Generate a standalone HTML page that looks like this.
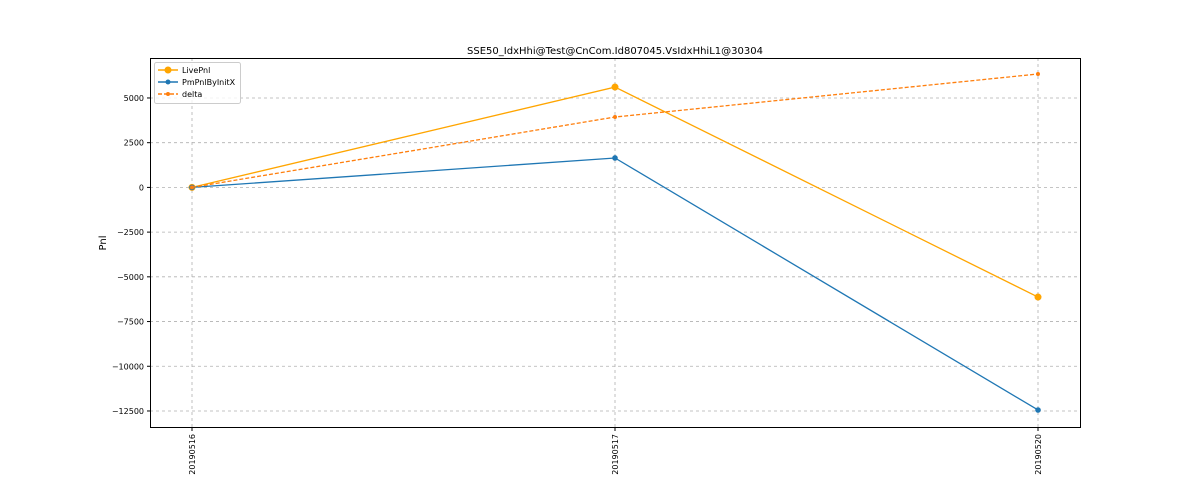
<!DOCTYPE html>
<html><head><meta charset="utf-8"><style>
body{margin:0;background:#fff;font-family:"DejaVu Sans","Liberation Sans",sans-serif;}
svg text{font-family:"DejaVu Sans","Liberation Sans",sans-serif;}
</style></head><body>
<svg id="chart" width="1200" height="480" xmlns="http://www.w3.org/2000/svg">
<rect width="1200" height="480" fill="#fff"/>
<g id="grid"></g>
<g id="series"></g>
<rect x="150.5" y="58.5" width="930" height="369" fill="none" stroke="#000" stroke-width="1"/>
<g id="yticks"></g>
<g id="xticks"></g>
<text x="615" y="54" font-size="10" text-anchor="middle">SSE50_IdxHhi@Test@CnCom.Id807045.VsIdxHhiL1@30304</text>
<text x="106" y="243" font-size="10" text-anchor="middle" transform="rotate(-90 106 243)">Pnl</text>
<g>
<rect x="154.5" y="62.5" width="86" height="41" rx="2" fill="#fff" fill-opacity="0.8" stroke="#ccc"/>
<g><line x1="158" y1="70" x2="178" y2="70" stroke="orange" stroke-width="1.5"/><circle cx="168" cy="70" r="3.5" fill="orange"/><text x="182" y="73" font-size="8">LivePnl</text></g>
<g><line x1="158" y1="82" x2="178" y2="82" stroke="#1f77b4" stroke-width="1.5"/><circle cx="168" cy="82" r="2.5" fill="#1f77b4"/><text x="182" y="85" font-size="8">PmPnlByInitX</text></g>
<g><line x1="158" y1="94" x2="178" y2="94" stroke="#ff7f0e" stroke-width="1.5" stroke-dasharray="4,2"/><circle cx="168" cy="94" r="2" fill="#ff7f0e"/><text x="182" y="97" font-size="8">delta</text></g>
</g>
</svg>
<script>
const categories=["20190516","20190517","20190520"];
const livePnl=[0,5610,-6130];
const pmPnl=[0,1645,-12445];
const delta=[0,3935,6340];
const yTicks=[5000,2500,0,-2500,-5000,-7500,-10000,-12500];
const yTickLabels=["5000","2500","0","\u22122500","\u22125000","\u22127500","\u221210000","\u221212500"];
const NS="http://www.w3.org/2000/svg";
function X(i){return 192+i*423;}
function Y(v){return 187.4-v*0.017886;}
function mk(p,t,a){const e=document.createElementNS(NS,t);for(const k in a)e.setAttribute(k,a[k]);p.appendChild(e);return e;}
const grid=document.getElementById('grid'),yt=document.getElementById('yticks'),xt=document.getElementById('xticks'),sr=document.getElementById('series');
yTicks.forEach((v,i)=>{const y=Y(v);
const g=mk(grid,'line',{x1:150,x2:1080,y1:y,y2:y,stroke:'#b0b0b0','stroke-dasharray':'3,3','stroke-width':0.8});


mk(yt,'line',{x1:147,x2:150,y1:y,y2:y,stroke:'#000'});
const t=mk(yt,'text',{x:144,y:y+3,'font-size':8,'text-anchor':'end'});t.textContent=yTickLabels[i];


});
categories.forEach((c,i)=>{const x=X(i);
const g=mk(grid,'line',{x1:x,x2:x,y1:58,y2:427,stroke:'#b0b0b0','stroke-dasharray':'3,3','stroke-width':0.8});


mk(xt,'line',{x1:x,x2:x,y1:427,y2:431,stroke:'#000'});
const t=mk(xt,'text',{x:x+3,y:434,'font-size':8,'text-anchor':'end',transform:`rotate(-90 ${x+3} 434)`});t.textContent=c;


});
function series(data,color,r,dash,name){
const pts=data.map((v,i)=>X(i)+','+Y(v)).join(' ');
const a={points:pts,fill:'none',stroke:color,'stroke-width':1.3};if(dash)a['stroke-dasharray']=dash;
const l=mk(sr,'polyline',a);


data.forEach((v,i)=>{const c=mk(sr,'circle',{cx:X(i),cy:Y(v),r:r,fill:color});

});
}
series(livePnl,'orange',3.5,null,'livepnl');
series(pmPnl,'#1f77b4',2.8,null,'pmpnl');
series(delta,'#ff7f0e',2,'4,2','delta');
</script>
</body></html>
